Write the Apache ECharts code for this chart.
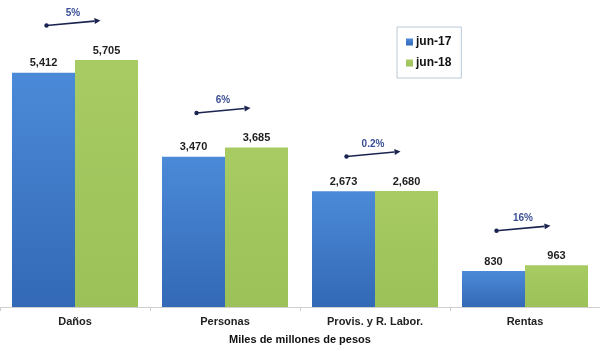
<!DOCTYPE html>
<html>
<head>
<meta charset="utf-8">
<script src="https://cdn.jsdelivr.net/npm/echarts@6/dist/echarts.min.js"></script>
<style>html,body{margin:0;padding:0;background:#fff}#c{width:600px;height:351px}</style>
</head>
<body>
<div id="c"></div>
<script>
var categories = ['Daños', 'Personas', 'Provis. y R. Labor.', 'Rentas'];
var jun17 = [5412, 3470, 2673, 830];
var jun18 = [5705, 3685, 2680, 963];
var growthLabels = ['5%', '6%', '0.2%', '16%'];
var seriesNames = ['jun-17', 'jun-18'];
var axisName = 'Miles de millones de pesos';

var FONT = '"Liberation Sans", Arial, sans-serif';
var chart = echarts.init(document.getElementById('c'));

function grad(top, bottom) {
  return new echarts.graphic.LinearGradient(0, 0, 0, 1, [
    {offset: 0, color: top}, {offset: 1, color: bottom}
  ]);
}
var blue = grad('#4b8ad8', '#3369b6');
var green = grad('#a8cb64', '#9cc159');

var arrowData = categories.map(function (c, i) { return [i, Math.max(jun17[i], jun18[i])]; });

var labelCfg = {
  show: true, position: 'top', distance: 4,
  fontFamily: FONT, fontWeight: 'bold', fontSize: 11, color: '#1e1e1e',
  formatter: function (p) { return p.value.toLocaleString('en-US'); }
};

chart.setOption({
  animation: false,
  textStyle: {fontFamily: FONT},
  grid: {left: 0, right: 0, top: 4, bottom: 44},
  legend: {
    orient: 'vertical', left: 397, top: 27,
    padding: [9, 10, 9, 9],
    itemGap: 9,
    itemWidth: 7, itemHeight: 7,
    borderColor: '#b9c8d8', borderWidth: 1,
    icon: 'rect',
    textStyle: {fontFamily: FONT, fontWeight: 'bold', fontSize: 12, color: '#111', padding: [0, 0, 0, -2]},
    data: seriesNames
  },
  xAxis: {
    type: 'category', data: categories,
    axisLine: {lineStyle: {color: '#cfcfcf'}},
    axisTick: {show: true, length: 4, lineStyle: {color: '#cfcfcf'}},
    axisLabel: {fontFamily: FONT, fontSize: 11, fontWeight: 'bold', color: '#222', margin: 9},
    name: axisName, nameLocation: 'middle', nameGap: 27,
    nameTextStyle: {fontFamily: FONT, fontSize: 11, fontWeight: 'bold', color: '#111'}
  },
  yAxis: {type: 'value', min: 0, max: 7000, show: false, splitLine: {show: false}},
  series: [
    {name: seriesNames[0], type: 'bar', data: jun17, barGap: '0%', barCategoryGap: '16%',
      itemStyle: {color: blue}, label: labelCfg},
    {name: seriesNames[1], type: 'bar', data: jun18,
      itemStyle: {color: green}, label: labelCfg},
    {
      type: 'custom', data: arrowData, silent: true, z: 5,
      renderItem: function (params, api) {
        var i = params.dataIndex;
        var p = api.coord([api.value(0), api.value(1)]);
        var bw = api.size([1, 0])[0];
        var cx = p[0];
        var y = p[1] - 37;
        var x1 = cx - bw * 0.19, y1 = y + 2.5;
        var x2 = cx + bw * 0.17, y2 = y - 2.5;
        var ang = Math.atan2(y2 - y1, x2 - x1);
        var hl = 6, hw = 3;
        var bx = x2 - hl * Math.cos(ang), by = y2 - hl * Math.sin(ang);
        var nx = -Math.sin(ang) * hw, ny = Math.cos(ang) * hw;
        var col = '#1b2450';
        return {
          type: 'group', children: [
            {type: 'line', shape: {x1: x1, y1: y1, x2: bx, y2: by}, style: {stroke: col, lineWidth: 1.6}},
            {type: 'circle', shape: {cx: x1, cy: y1, r: 2.2}, style: {fill: col}},
            {type: 'polygon', shape: {points: [[x2, y2], [bx + nx, by + ny], [bx - nx, by - ny]]}, style: {fill: col}},
            {type: 'text', style: {text: growthLabels[i], x: cx - 2, y: y - 10, align: 'center', verticalAlign: 'middle',
              fill: '#3b4f94', fontFamily: FONT, fontWeight: 'bold', fontSize: 10}}
          ]
        };
      }
    }
  ]
});
</script>
</body>
</html>
